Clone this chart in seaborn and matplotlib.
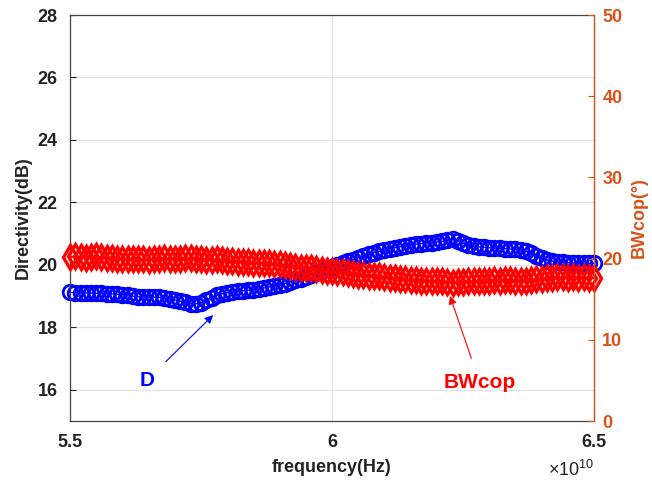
import numpy as np
import matplotlib
matplotlib.use("Agg")
import matplotlib.pyplot as plt
from matplotlib.ticker import FuncFormatter
import seaborn as sns

# frequency sweep, 5.5e10 .. 6.5e10 Hz, 101 samples
freq = np.linspace(5.5e10, 6.5e10, 101)

# directivity D (dB), left axis
directivity = [
    19.12, 19.11, 19.10, 19.10, 19.10, 19.09, 19.09, 19.08, 19.07, 19.06,
    19.05, 19.03, 19.00, 18.98, 18.97, 18.97, 18.97, 18.96, 18.94, 18.91,
    18.88, 18.84, 18.80, 18.76, 18.75, 18.78, 18.86, 18.95, 19.02, 19.07,
    19.11, 19.13, 19.15, 19.17, 19.19, 19.21, 19.23, 19.26, 19.29, 19.32,
    19.36, 19.40, 19.45, 19.50, 19.56, 19.62, 19.68, 19.74, 19.80, 19.86,
    19.92, 19.98, 20.05, 20.11, 20.17, 20.23, 20.29, 20.34, 20.39, 20.43,
    20.47, 20.51, 20.55, 20.58, 20.61, 20.64, 20.66, 20.68, 20.70, 20.71,
    20.73, 20.75, 20.79, 20.82, 20.78, 20.70, 20.63, 20.59, 20.57, 20.56,
    20.55, 20.54, 20.53, 20.52, 20.51, 20.50, 20.48, 20.44, 20.37, 20.28,
    20.21, 20.16, 20.12, 20.10, 20.08, 20.07, 20.06, 20.06, 20.05, 20.05,
    20.05,
]

# copolar beamwidth (deg), right axis
bwcop = [
    20.2, 20.3, 20.2, 20.1, 20.2, 20.3, 20.2, 20.1, 20.1, 20.0,
    20.0, 19.9, 19.9, 20.0, 19.9, 19.8, 19.9, 20.0, 20.1, 20.0,
    19.9, 20.0, 20.1, 20.1, 20.0, 19.9, 19.8, 19.8, 19.9, 19.8,
    19.7, 19.7, 19.6, 19.6, 19.6, 19.5, 19.5, 19.4, 19.4, 19.3,
    19.3, 19.2, 19.1, 19.0, 18.9, 18.9, 18.8, 18.7, 18.6, 18.5,
    18.5, 18.4, 18.3, 18.2, 18.1, 18.0, 18.0, 17.9, 17.8, 17.8,
    17.7, 17.6, 17.6, 17.5, 17.5, 17.4, 17.4, 17.3, 17.3, 17.2,
    17.2, 17.2, 17.1, 17.0, 17.1, 17.1, 17.2, 17.2, 17.3, 17.3,
    17.3, 17.4, 17.3, 17.4, 17.4, 17.3, 17.2, 17.3, 17.4, 17.5,
    17.5, 17.6, 17.6, 17.7, 17.7, 17.6, 17.7, 17.6, 17.7, 17.6,
    17.6,
]

left_ticks = [16, 18, 20, 22, 24, 26, 28]
right_ticks = [0, 10, 20, 30, 40, 50]
x_ticks = [5.5e10, 6.0e10, 6.5e10]

orange = "#D95319"

sns.set_style("white")
plt.rcParams["font.family"] = ["Liberation Sans", "DejaVu Sans"]
plt.rcParams["font.weight"] = "bold"
plt.rcParams["mathtext.default"] = "regular"

fig = plt.figure(figsize=(6.52, 4.86), dpi=100)
ax = fig.add_axes([0.1074, 0.1337, 0.8037, 0.8354])

sns.lineplot(x=freq, y=directivity, ax=ax, color="blue", lw=1,
             marker="o", ms=10.5, mfc="none", mec="blue", mew=2.0,
             clip_on=False)
ax.set_xlim(5.5e10, 6.5e10)
ax.set_ylim(15, 28)
ax.set_xticks(x_ticks)
ax.set_yticks(left_ticks)
ax.xaxis.set_major_formatter(FuncFormatter(lambda v, p: f"{v / 1e10:g}"))
ax.grid(True, color="#e3e3e3", lw=0.9)
ax.tick_params(direction="in", length=4, labelsize=13, colors="#222222",
               pad=9)
for lab in ax.get_xticklabels() + ax.get_yticklabels():
    lab.set_fontweight("bold")
for s in ["left", "bottom", "top"]:
    ax.spines[s].set_color("#444444")
    ax.spines[s].set_linewidth(0.9)
ax.set_xlabel("frequency(Hz)", fontsize=13, fontweight="bold",
              color="#222222", labelpad=6)
ax.set_ylabel("Directivity(dB)", fontsize=13, fontweight="bold",
              color="#222222", labelpad=4)
ax.text(1.0, -0.12, "×10$^{10}$", transform=ax.transAxes,
        ha="right", va="center", fontsize=13, color="#222222",
        fontweight="normal")

ax2 = ax.twinx()
sns.lineplot(x=freq, y=bwcop, ax=ax2, color="red", lw=1.5,
             marker="d", ms=12, mfc="none", mec="red", mew=2.4,
             clip_on=False)
ax2.set_ylim(0, 50)
ax2.set_yticks(right_ticks)
ax2.tick_params(direction="in", length=4, labelsize=13, colors=orange,
                pad=6)
for lab in ax2.get_yticklabels():
    lab.set_fontweight("bold")
ax2.spines["right"].set_color(orange)
ax2.spines["right"].set_linewidth(0.9)
for s in ["left", "bottom", "top"]:
    ax2.spines[s].set_visible(False)
ax2.set_ylabel("BWcop(°)", fontsize=13, fontweight="bold", color=orange,
               labelpad=6)

ax.annotate("D", xy=(5.773e10, 18.39), xytext=(5.647e10, 16.31),
            fontsize=15, fontweight="bold", color="blue",
            ha="center", va="center",
            arrowprops=dict(arrowstyle="-|>", color="blue", lw=0.8,
                            shrinkA=8, shrinkB=0, mutation_scale=12))
ax2.annotate("BWcop", xy=(6.225e10, 15.4), xytext=(6.282e10, 4.7),
             fontsize=15, fontweight="bold", color="red",
             ha="center", va="center",
             arrowprops=dict(arrowstyle="-|>", color="red", lw=0.8,
                             shrinkA=9, shrinkB=0, mutation_scale=12))

fig.savefig("out.png", dpi=100)
